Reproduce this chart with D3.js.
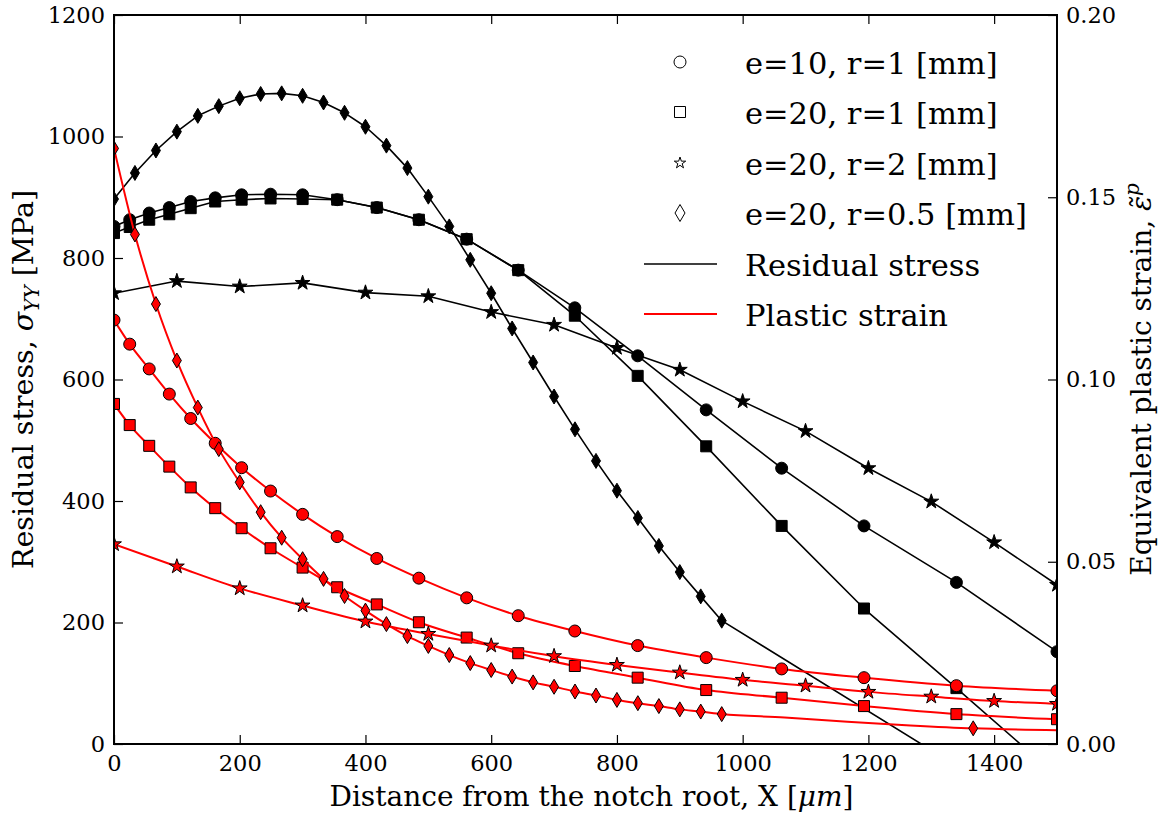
<!DOCTYPE html>
<html>
<head>
<meta charset="utf-8">
<script src="https://cdn.jsdelivr.net/npm/d3@7"></script>
<style>
  html, body { margin: 0; padding: 0; background: #fff; }
  svg { display: block; }
  text { font-family: "DejaVu Serif", serif; fill: #000; }
</style>
</head>
<body>
<svg id="chart" width="1161" height="818"></svg>
<script>
// ---------------- DATA ----------------
// Mesh node positions (µm) for e=10,r=1 and e=20,r=1
const nodeX = [0, 25, 56, 88, 122, 161, 203, 249, 300, 355, 418, 485, 561, 643, 733, 833, 942, 1062, 1193, 1340, 1500];
// Residual stress [MPa]
const stressCircle = [852, 863, 874, 883, 893, 899, 904, 905, 904, 896, 883, 863, 831, 780, 718, 639, 550, 454, 359, 266, 152];
const stressSquare = [841, 851, 863, 872, 882, 893, 896, 898, 897, 896, 883, 863, 831, 780, 705, 606, 490, 359, 223, 92, -53];
// Plastic strain
const strainCircle = [0.1163, 0.1097, 0.1029, 0.0960, 0.0893, 0.0825, 0.0758, 0.0694, 0.0630, 0.0569, 0.0509, 0.0455, 0.0401, 0.0352, 0.0310, 0.0270, 0.0237, 0.0206, 0.0182, 0.0160, 0.0146];
const strainSquare = [0.0933, 0.0875, 0.0818, 0.0761, 0.0704, 0.0647, 0.0592, 0.0537, 0.0484, 0.0430, 0.0383, 0.0334, 0.0292, 0.0249, 0.0214, 0.0182, 0.0148, 0.0127, 0.0104, 0.0082, 0.0068];

// e=20, r=2
const starX = [0, 100, 200, 300, 400, 500, 600, 700, 800, 900, 1000, 1100, 1200, 1300, 1400, 1500];
const stressStar = [742, 762, 753, 759, 743, 737, 711, 690, 652, 616, 564, 515, 454, 399, 332, 262];
const strainStar = [0.0548, 0.0487, 0.0427, 0.0380, 0.0336, 0.0302, 0.0270, 0.0241, 0.0217, 0.0196, 0.0176, 0.0160, 0.0143, 0.0130, 0.0118, 0.0110];

// e=20, r=0.5
const stressDiamondX = [0, 33.3, 66.7, 100, 133.3, 166.7, 200, 233.3, 266.7, 300, 333.3, 366.7, 400, 433.3, 466.7, 500, 533.3, 566.7, 600, 633.3, 666.7, 700, 733.3, 766.7, 800, 833.3, 866.7, 900, 933.3, 966.7, 1500];
const stressDiamond = [897, 940, 977, 1008, 1034, 1050, 1063, 1070, 1071, 1067, 1056, 1039, 1016, 985, 948, 901, 852, 797, 742, 684, 628, 572, 518, 466, 417, 372, 326, 283, 243, 203, -138];
const strainDiamondX = [0, 33.3, 66.7, 100, 133.3, 166.7, 200, 233.3, 266.7, 300, 333.3, 366.7, 400, 433.3, 466.7, 500, 533.3, 566.7, 600, 633.3, 666.7, 700, 733.3, 766.7, 800, 833.3, 866.7, 900, 933.3, 966.7, 1066.7, 1166.7, 1266.7, 1366.7, 1500];
const strainDiamond = [0.1634, 0.1398, 0.1207, 0.1052, 0.0923, 0.0809, 0.0718, 0.0636, 0.0566, 0.0507, 0.0453, 0.0406, 0.0366, 0.0329, 0.0296, 0.0269, 0.0244, 0.0222, 0.0203, 0.0185, 0.0169, 0.0157, 0.0144, 0.0133, 0.0121, 0.0112, 0.0104, 0.0095, 0.0089, 0.0082, 0.0073, 0.0061, 0.0051, 0.0043, 0.0038];
// which strain-diamond points carry a marker
const strainDiamondMarked = [1,1,1,1,1,1,1,1,1,1,1,1,1,1,1,1,1,1,1,1,1,1,1,1,1,1,1,1,1,1,0,0,0,1,0];

const xTicks = [0, 200, 400, 600, 800, 1000, 1200, 1400];
const yLeftTicks = [0, 200, 400, 600, 800, 1000, 1200];
const yRightTicks = [0, 0.05, 0.10, 0.15, 0.20];
const legendCases = ["e=10, r=1 [mm]", "e=20, r=1 [mm]", "e=20, r=2 [mm]", "e=20, r=0.5 [mm]"];
const legendLines = ["Residual stress", "Plastic strain"];

// ---------------- LAYOUT ----------------
const L = 114, R = 1057, T = 15, B = 744;
const svg = d3.select("#chart");
const x = d3.scaleLinear().domain([0, 1500]).range([L, R]);
const yL = d3.scaleLinear().domain([0, 1200]).range([B, T]);
const yR = d3.scaleLinear().domain([0, 0.2]).range([B, T]);

svg.append("defs").append("clipPath").attr("id", "clip")
  .append("rect").attr("x", L).attr("y", T).attr("width", R - L).attr("height", B - T);

// marker path generators
function starPath(Ro) {
  const ri = Ro * 0.381966; let p = "";
  for (let i = 0; i < 10; i++) {
    const a = -Math.PI / 2 + i * Math.PI / 5, r = i % 2 ? ri : Ro;
    p += (i ? "L" : "M") + (r * Math.cos(a)).toFixed(2) + "," + (r * Math.sin(a)).toFixed(2);
  }
  return p + "Z";
}
function markerPath(type, s) {
  if (type === "circle") { const r = s.r; return `M${r},0A${r},${r} 0 1,1 ${-r},0A${r},${r} 0 1,1 ${r},0Z`; }
  if (type === "square") { const h = s.sq / 2; return `M${-h},${-h}H${h}V${h}H${-h}Z`; }
  if (type === "star") return starPath(s.st);
  if (type === "diamond") { const w = s.dw / 2, h = s.dh / 2; return `M0,${-h}L${w},0L0,${h}L${-w},0Z`; }
}
const plotSize = { r: 6, sq: 11, st: 7.8, dw: 9, dh: 15 };
const legSize = { r: 6, sq: 11, st: 6, dw: 10, dh: 17 };

const plot = svg.append("g").attr("clip-path", "url(#clip)");

function drawSeries(xs, ys, yScale, type, color, lw, curve, marked) {
  const pts = xs.map((v, i) => ({ x: v, y: ys[i], m: marked ? marked[i] : 1 }));
  plot.append("path").datum(pts)
    .attr("fill", "none").attr("stroke", color).attr("stroke-width", lw)
    .attr("stroke-linejoin", "round")
    .attr("d", d3.line().x(d => x(d.x)).y(d => yScale(d.y)).curve(curve));
  plot.append("g").selectAll("path").data(pts.filter(d => d.m)).join("path")
    .attr("transform", d => `translate(${x(d.x)},${yScale(d.y)})`)
    .attr("d", markerPath(type, plotSize))
    .attr("fill", color).attr("stroke", "#000").attr("stroke-width", 1);
}

// Residual stress (black)
drawSeries(nodeX, stressCircle, yL, "circle", "#000", 1.6, d3.curveLinear);
drawSeries(nodeX, stressSquare, yL, "square", "#000", 1.6, d3.curveLinear);
drawSeries(starX, stressStar, yL, "star", "#000", 1.6, d3.curveLinear);
drawSeries(stressDiamondX, stressDiamond, yL, "diamond", "#000", 1.6, d3.curveLinear);
// Plastic strain (red)
drawSeries(nodeX, strainCircle, yR, "circle", "#ff0000", 2, d3.curveMonotoneX);
drawSeries(nodeX, strainSquare, yR, "square", "#ff0000", 2, d3.curveMonotoneX);
drawSeries(starX, strainStar, yR, "star", "#ff0000", 2, d3.curveMonotoneX);
drawSeries(strainDiamondX, strainDiamond, yR, "diamond", "#ff0000", 2, d3.curveMonotoneX, strainDiamondMarked);

// ---------------- AXES ----------------
function styleAxis(g) {
  g.select(".domain").remove();
  g.selectAll(".tick line").attr("stroke", "#000").attr("stroke-width", 1.2);
  g.selectAll(".tick text").style("font-family", "DejaVu Serif, serif").style("font-size", "22.5px").attr("fill", "#000");
}
svg.append("g").attr("transform", `translate(0,${B})`)
  .call(d3.axisBottom(x).tickValues(xTicks).tickSize(-9).tickPadding(11).tickFormat(d3.format("d")))
  .call(styleAxis);
svg.append("g").attr("transform", `translate(0,${T})`)
  .call(d3.axisTop(x).tickValues(xTicks).tickSize(-9).tickFormat(""))
  .call(styleAxis);
svg.append("g").attr("transform", `translate(${L},0)`)
  .call(d3.axisLeft(yL).tickValues(yLeftTicks).tickSize(-9).tickPadding(9).tickFormat(d3.format("d")))
  .call(styleAxis);
svg.append("g").attr("transform", `translate(${R},0)`)
  .call(d3.axisRight(yR).tickValues(yRightTicks).tickSize(-9).tickPadding(9).tickFormat(d3.format(".2f")))
  .call(styleAxis);

// frame
svg.append("rect").attr("x", L).attr("y", T).attr("width", R - L).attr("height", B - T)
  .attr("fill", "none").attr("stroke", "#000").attr("stroke-width", 2);

// axis labels
const xl = svg.append("text").attr("x", (L + R) / 2 + 6).attr("y", 806)
  .attr("text-anchor", "middle").style("font-size", "28px");
xl.append("tspan").text("Distance from the notch root, X [");
xl.append("tspan").style("font-style", "italic").text("μm");
xl.append("tspan").text("]");

const yll = svg.append("text").attr("transform", `translate(33,${(T + B) / 2 + 0}) rotate(-90)`)
  .attr("text-anchor", "middle").style("font-size", "28.5px");
yll.append("tspan").text("Residual stress, ");
yll.append("tspan").style("font-style", "italic").text("σ");
yll.append("tspan").style("font-style", "italic").style("font-size", "20px").attr("dy", 6).text("YY");
yll.append("tspan").attr("dy", -6).text(" [MPa]");

const yrl = svg.append("text").attr("transform", `translate(1151,${(T + B) / 2}) rotate(-90)`)
  .attr("text-anchor", "middle").style("font-size", "28px");
yrl.append("tspan").text("Equivalent plastic strain, ");
yrl.append("tspan").style("font-style", "italic").text("ε\u0303");
yrl.append("tspan").style("font-style", "italic").style("font-size", "20px").attr("dy", -12).text("p");

// ---------------- LEGEND ----------------
const legTypes = ["circle", "square", "star", "diamond"];
const legY = [62, 112, 163, 213, 264, 314];
const leg = svg.append("g");
legendCases.forEach((lab, i) => {
  leg.append("path").attr("transform", `translate(680,${legY[i]})`)
    .attr("d", markerPath(legTypes[i], legSize))
    .attr("fill", "#fff").attr("stroke", "#000").attr("stroke-width", 1);
  leg.append("text").attr("x", 745).attr("y", legY[i] + 12).style("font-size", "30.5px").text(lab);
});
const lineColors = ["#000", "#ff0000"];
legendLines.forEach((lab, j) => {
  const yy = legY[4 + j];
  leg.append("line").attr("x1", 644).attr("x2", 717).attr("y1", yy).attr("y2", yy)
    .attr("stroke", lineColors[j]).attr("stroke-width", j ? 2 : 1.6);
  leg.append("text").attr("x", 745).attr("y", yy + 12).style("font-size", "30.5px").text(lab);
});
</script>
</body>
</html>
